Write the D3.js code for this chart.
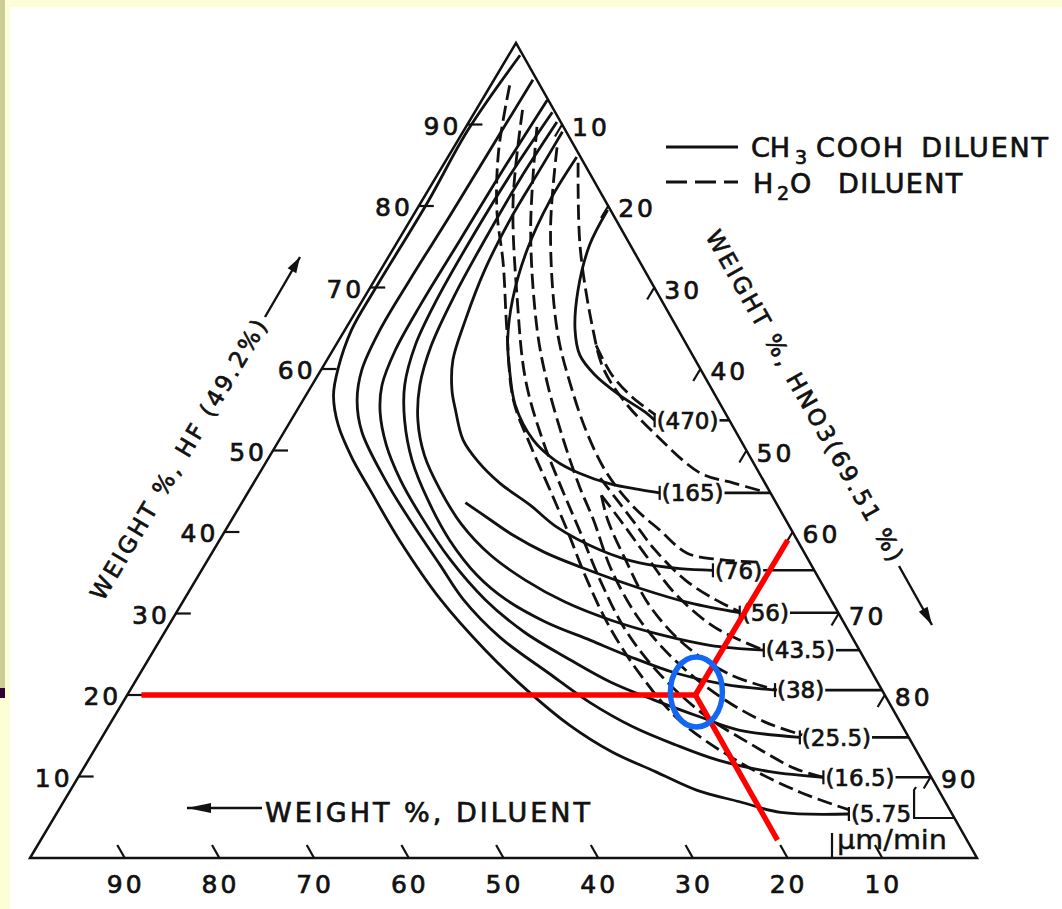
<!DOCTYPE html>
<html>
<head>
<meta charset="utf-8">
<title>Si etch rate, HF - HNO3 - diluent</title>
<script src="https://cdn.jsdelivr.net/npm/d3@7/dist/d3.min.js"></script>
<style>
  body { margin: 0; background: #fdfdd8; }
  svg { display: block; }
  text { font-family: "DejaVu Sans", sans-serif; fill: #111; stroke: #111; stroke-width: 0.7px; }
</style>
</head>
<body>
<svg id="chart" width="1062" height="909"></svg>
<script>
// tick values on the three sides
const hfTicks = [10, 20, 30, 40, 50, 60, 70, 80, 90];
const hno3Ticks = [10, 20, 30, 40, 50, 60, 70, 80, 90];
const diluentTicks = [90, 80, 70, 60, 50, 40, 30, 20, 10];

// etch rates in um/min, highest first
const rates = ["470", "165", "76", "56", "43.5", "38", "25.5", "16.5", "5.75"];

// every curve is a list of [HF %, HNO3 %]; diluent is the rest
// CH3COOH diluent (solid)
const acetic_470 = [[79.5,20.2],[75.2,20.5],[69.7,22.1],[64.8,24.3],[61.7,26.4],[59.3,29.2],[56.8,33.1],[54.7,36.9],[53.7,38.4]];
const acetic_165 = [[86.0,13.6],[80.7,13.5],[74.6,14.2],[68.5,15.8],[63.6,17.8],[59.9,19.9],[55.6,22.7],[51.3,26.8],[48.8,30.4],[47.2,33.8],[45.9,37.7],[45.2,41.2],[44.8,43.5]];
const acetic_76 = [[89.1,10.5],[84.4,10.5],[78.3,10.5],[72.1,11.0],[66.0,12.1],[61.1,13.3],[57.4,15.1],[55.0,16.7],[51.3,19.4],[48.6,22.4],[46.0,26.0],[43.3,30.6],[40.6,34.8],[37.8,40.8],[36.2,45.8],[35.5,50.4],[35.3,54.0]];
const acetic_56 = [[43.6,23.6],[41.5,27.3],[39.6,30.7],[37.5,35.1],[35.7,39.8],[33.1,47.4],[31.3,53.6],[30.1,59.5]];
const acetic_43_5 = [[90.3,9.3],[83.2,9.0],[75.8,9.1],[69.1,9.4],[62.9,10.1],[58.0,11.4],[53.7,13.4],[49.4,16.3],[45.2,20.1],[40.9,24.6],[37.2,29.5],[34.1,34.8],[31.4,40.4],[29.2,46.3],[27.4,52.5],[26.1,58.4],[25.5,64.4]];
const acetic_38 = [[91.5,8.2],[83.8,7.7],[75.8,7.6],[68.5,7.8],[62.9,8.4],[58.0,9.8],[53.7,12.0],[48.8,15.3],[43.9,19.5],[39.0,24.3],[34.7,29.4],[31.7,34.0],[29.0,39.5],[26.7,45.5],[24.7,50.7],[22.7,56.5],[21.3,62.4],[20.6,68.1]];
const acetic_25_5 = [[93.0,6.9],[83.8,6.6],[75.8,6.5],[67.9,6.4],[62.3,6.6],[58.0,7.4],[54.7,8.9],[50.7,11.6],[46.4,15.3],[42.1,19.6],[36.6,25.6],[31.7,31.8],[27.7,38.0],[24.3,44.6],[21.6,50.2],[19.4,55.9],[17.3,61.9],[15.7,66.8],[14.8,73.7]];
const acetic_16_5 = [[95.5,4.1],[86.9,4.0],[78.9,3.9],[70.9,3.7],[64.8,3.7],[59.9,4.3],[56.2,5.7],[52.3,8.2],[46.4,13.7],[41.5,18.8],[36.0,24.8],[31.7,29.5],[27.1,35.7],[22.7,43.1],[19.1,49.3],[16.1,55.4],[13.9,61.0],[12.0,66.5],[10.6,72.7],[9.9,78.7]];
const acetic_5_75 = [[98.5,1.2],[89.3,0.4],[80.4,0.7],[69.7,0.6],[64.8,0.7],[60.1,1.7],[56.8,2.9],[53.1,5.3],[49.1,8.8],[45.2,12.7],[39.0,19.0],[31.7,27.1],[25.5,35.0],[20.6,41.9],[16.3,48.6],[13.0,54.8],[10.6,60.6],[8.3,66.2],[6.9,71.4],[5.6,76.4],[5.4,83.7]];

// H2O diluent (dashed)
const water_470 = [[62.9,27.5],[59.3,31.0],[56.6,34.5],[54.4,38.1]];
const water_165 = [[85.3,14.1],[75.0,19.6],[64.8,26.2],[60.2,29.6],[56.2,33.8],[52.1,39.2],[47.2,46.6],[46.0,50.7],[44.9,54.6]];
const water_76 = [[87.2,10.9],[77.1,15.4],[64.8,22.4],[58.3,27.1],[52.1,32.1],[47.2,36.7],[43.1,41.6],[40.2,45.9],[37.4,50.2],[36.6,54.1],[36.3,58.4]];
const water_56 = [[46.6,36.3],[41.5,42.3],[37.8,46.6],[34.1,51.7],[31.7,56.1],[30.2,59.5]];
const water_43_5 = [[44.5,37.5],[41.5,41.0],[37.2,45.9],[32.5,51.4],[28.3,57.8],[25.5,64.4]];
const water_38 = [[44.5,37.5],[41.5,39.7],[36.6,44.1],[31.0,49.5],[26.1,55.8],[22.5,62.4],[20.6,68.3]];
const water_25_5 = [[89.7,7.5],[77.1,13.3],[64.8,20.3],[58.3,24.7],[51.3,30.0],[45.5,34.7],[41.5,38.2],[35.3,43.3],[29.2,49.4],[24.3,55.6],[19.8,62.7],[16.7,69.0],[15.1,73.8]];
const water_16_5 = [[91.8,4.9],[80.7,9.6],[68.5,16.3],[58.7,22.2],[51.3,27.8],[45.2,33.0],[40.2,37.4],[34.1,42.7],[28.0,48.5],[22.5,55.0],[17.5,62.3],[13.9,69.1],[11.0,75.1],[9.9,78.7]];
const water_5_75 = [[94.8,2.0],[86.9,4.9],[79.5,8.5],[73.0,12.5],[64.8,17.1],[56.2,22.2],[50.7,26.8],[45.2,31.7],[40.2,36.1],[34.7,40.8],[28.6,46.4],[22.5,52.9],[16.9,59.9],[11.8,68.8],[8.1,77.1],[5.9,83.5]];

// worked example: 20 % HF, 60 % HNO3, 20 % diluent
const marker = [20, 60];
const markerHF = [20, 1.5];     // left end of the HF guide
const markerHNO3 = [39, 60];    // upper end of the HNO3 guide
const markerDil = [2.2, 77.8];  // lower end of the diluent guide

const aceticCurves = [acetic_470, acetic_165, acetic_76, acetic_56, acetic_43_5, acetic_38, acetic_25_5, acetic_16_5, acetic_5_75];
const waterCurves = [water_470, water_165, water_76, water_56, water_43_5, water_38, water_25_5, water_16_5, water_5_75];

const svg = d3.select("#chart");
const ink = "#111";

// slide frame
svg.append("rect").attr("width", 1062).attr("height", 909).attr("fill", "#fdfdd8");
svg.append("rect").attr("x", 10).attr("y", 7).attr("width", 1052).attr("height", 902).attr("fill", "#fff");
svg.append("rect").attr("width", 5).attr("height", 688).attr("fill", "#cccc99");
svg.append("rect").attr("y", 688).attr("width", 5).attr("height", 10).attr("fill", "#330033");

// ternary projection: HF goes up, HNO3 to the right, diluent to the left
const yHF = d3.scaleLinear().domain([0, 100]).range([858, 43]);
const xHNO3 = d3.scaleLinear().domain([0, 100]).range([30, 977]);
const xLean = d3.scaleLinear().domain([0, 100]).range([0, 486]);
const proj = d => [xHNO3(d[1]) + xLean(d[0]), yHF(d[0])];
// x of the right side (no diluent) at a given pixel height
const edgeX = y => { const h = yHF.invert(y); return proj([h, 100 - h])[0]; };

const curve = d3.line()
  .x(d => proj(d)[0])
  .y(d => proj(d)[1])
  .curve(d3.curveCatmullRom.alpha(0.5));

function seg(x1, y1, x2, y2, w) {
  return svg.append("line")
    .attr("x1", x1).attr("y1", y1).attr("x2", x2).attr("y2", y2)
    .attr("stroke", ink).attr("stroke-width", w || 2.2);
}

function arrow(x1, y1, x2, y2, head, half) {
  seg(x1, y1, x2, y2, 2.4);
  const a = Math.atan2(y2 - y1, x2 - x1);
  const bx = x2 - head * Math.cos(a), by = y2 - head * Math.sin(a);
  const px = half * Math.sin(a), py = -half * Math.cos(a);
  svg.append("path")
    .attr("d", `M${x2},${y2}L${bx + px},${by + py}L${bx - px},${by - py}Z`)
    .attr("fill", ink);
}

// triangle
svg.append("path")
  .attr("d", d3.line()([[100, 0], [0, 0], [0, 100]].map(proj)) + "Z")
  .attr("fill", "none").attr("stroke", ink).attr("stroke-width", 2.5);

// HF ticks, left side
hfTicks.forEach(t => {
  const [x, y] = proj([t, 0]);
  seg(x, y, x + 15, y);
  svg.append("text").attr("x", x - 6).attr("y", y + 10)
    .attr("text-anchor", "end").attr("font-size", 25).attr("letter-spacing", 3)
    .text(t);
});

// HNO3 ticks, right side
hno3Ticks.forEach(t => {
  const [x, y] = proj([100 - t, t]);
  seg(x, y, x - 0.512 * 14, y + 0.859 * 14);
  svg.append("text").attr("x", x + 10).attr("y", y + 11)
    .attr("font-size", 25).attr("letter-spacing", 3)
    .text(t);
});

// diluent ticks, bottom side
diluentTicks.forEach(t => {
  const [x, y] = proj([0, 100 - t]);
  seg(x, y, x - 0.492 * 15, y - 0.870 * 15);
  svg.append("text").attr("x", x + 1).attr("y", 893)
    .attr("text-anchor", "middle").attr("font-size", 25).attr("letter-spacing", 3)
    .text(t);
});

// rate curves
const g = svg.append("g").attr("fill", "none").attr("stroke", ink)
  .attr("stroke-width", 2.8).attr("stroke-linecap", "butt");
g.selectAll("path.acetic").data(aceticCurves).join("path")
  .attr("class", "acetic").attr("d", curve);
g.selectAll("path.water").data(waterCurves).join("path")
  .attr("class", "water").attr("d", curve).attr("stroke-dasharray", "15,6");

// rate labels at the end of each solid curve, linked to the right side
rates.forEach((r, i) => {
  const pts = aceticCurves[i];
  const [x, y] = proj(pts[pts.length - 1]);
  const last = i === rates.length - 1;
  seg(x, y - 7, x, y + 7);
  const t = svg.append("text").attr("x", x + 2).attr("y", y).attr("dy", "0.36em")
    .attr("font-size", 23).text("(" + r + (last ? "" : ")"));
  const end = x + 2 + t.node().getComputedTextLength();
  if (!last) {
    seg(end + 1, y, edgeX(y), y, 2.6);
  } else {
    svg.append("path")
      .attr("d", `M${end + 5},${y - 27}L${end + 3},${y - 24}L${end + 3},${y + 4}L${edgeX(y + 4)},${y + 4}`)
      .attr("fill", "none").attr("stroke", ink).attr("stroke-width", 2.2);
  }
});

// units
svg.append("text").attr("x", 837).attr("y", 849)
  .attr("font-family", "Liberation Sans, Arial, sans-serif")
  .attr("font-size", 26).attr("textLength", 110).attr("lengthAdjust", "spacingAndGlyphs")
  .style("stroke-width", "0.4px")
  .text("\u00b5m/min");
seg(832, 833, 832, 858);

// side titles
svg.append("text").attr("transform", "translate(103,602) rotate(-59.2)")
  .attr("font-size", 23).attr("textLength", 322).attr("lengthAdjust", "spacing")
  .text("WEIGHT %, HF (49.2%)");
arrow(265, 317, 300, 257, 16, 5);

svg.append("text").attr("transform", "translate(705,236) rotate(60.5)")
  .attr("font-size", 23).attr("textLength", 376).attr("lengthAdjust", "spacing")
  .text("WEIGHT %, HNO3(69.51 %)");
arrow(899, 566, 932, 625, 18, 5);

svg.append("text").attr("x", 265).attr("y", 822)
  .attr("font-size", 27).attr("textLength", 325).attr("lengthAdjust", "spacing")
  .text("WEIGHT %, DILUENT");
arrow(262, 808, 187, 808, 24, 5);

// legend
seg(666, 147, 738, 147, 2.8);
const l1 = svg.append("text").attr("y", 157).attr("font-size", 27);
l1.append("tspan").attr("x", 751).text("CH");
l1.append("tspan").attr("x", 795).attr("dy", 7).attr("font-size", 19).text("3");
l1.append("tspan").attr("x", 816).attr("dy", -7).attr("letter-spacing", 1.8)
  .attr("word-spacing", 6).text("COOH DILUENT");

svg.append("line").attr("x1", 666).attr("y1", 182).attr("x2", 738).attr("y2", 182)
  .attr("stroke", ink).attr("stroke-width", 2.8).attr("stroke-dasharray", "21,8");
const l2 = svg.append("text").attr("y", 193).attr("font-size", 27);
l2.append("tspan").attr("x", 753).text("H");
l2.append("tspan").attr("x", 777).attr("dy", 7).attr("font-size", 19).text("2");
l2.append("tspan").attr("x", 790).attr("dy", -7).text("O");
l2.append("tspan").attr("x", 838).attr("letter-spacing", 1.4).text("DILUENT");

// worked example guides
const red = "#ff0000";
const [mx, my] = proj(marker);
[markerHF, markerHNO3, markerDil].forEach(p => {
  const [x, y] = proj(p);
  svg.append("line").attr("x1", x).attr("y1", y).attr("x2", mx).attr("y2", my)
    .attr("stroke", red).attr("stroke-width", 5.5);
});
svg.append("ellipse").attr("cx", mx + 1).attr("cy", my - 3).attr("rx", 26).attr("ry", 35)
  .attr("fill", "none").attr("stroke", "#1466f5").attr("stroke-width", 5.5);
</script>
</body>
</html>
